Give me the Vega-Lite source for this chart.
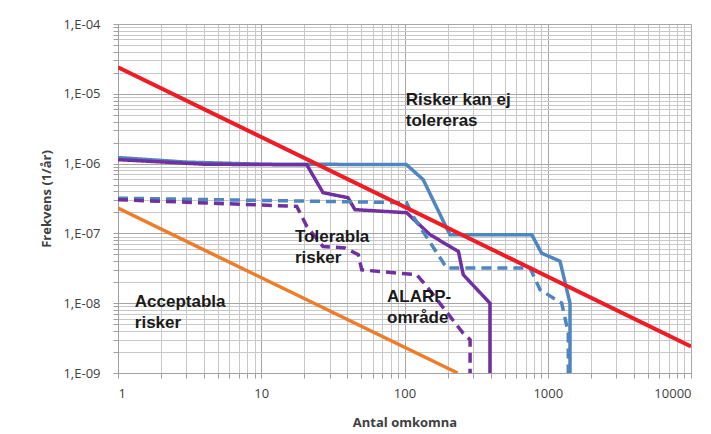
{
  "$schema": "https://vega.github.io/schema/vega-lite/v6.json",
  "width": 573,
  "height": 349,
  "autosize": "none",
  "padding": {"left": 118, "top": 24, "right": 20, "bottom": 61},
  "background": "white",
  "config": {
    "view": {"stroke": null},
    "axis": {
      "labelFont": "Open Sans",
      "titleFont": "Open Sans",
      "labelColor": "#404040",
      "titleColor": "#404040",
      "gridWidth": 1,
      "gridOpacity": 1,
      "domainColor": "#a0a0a0",
      "tickColor": "#a0a0a0",
      "labelOverlap": false,
      "labelFontSize": 13,
      "titleFontSize": 13,
      "titleFontWeight": "bold"
    }
  },
  "datasets": {
    "curves": [
      {"s": "blue", "i": 1, "x": 1, "y": 1.22e-6},
      {"s": "blue", "i": 2, "x": 3, "y": 1.05e-6},
      {"s": "blue", "i": 3, "x": 10, "y": 9.8e-7},
      {"s": "blue", "i": 4, "x": 103, "y": 9.7e-7},
      {"s": "blue", "i": 5, "x": 135, "y": 5.9e-7},
      {"s": "blue", "i": 6, "x": 197, "y": 1.19e-7},
      {"s": "blue", "i": 7, "x": 208, "y": 9.6e-8},
      {"s": "blue", "i": 8, "x": 773, "y": 9.6e-8},
      {"s": "blue", "i": 9, "x": 907, "y": 5.2e-8},
      {"s": "blue", "i": 10, "x": 1218, "y": 4.0e-8},
      {"s": "blue", "i": 11, "x": 1430, "y": 1.0e-8},
      {"s": "blue", "i": 12, "x": 1430, "y": 1.0e-9},
      {"s": "purple", "i": 1, "x": 1, "y": 1.14e-6},
      {"s": "purple", "i": 2, "x": 4, "y": 9.8e-7},
      {"s": "purple", "i": 3, "x": 20.8, "y": 9.6e-7},
      {"s": "purple", "i": 4, "x": 27, "y": 3.83e-7},
      {"s": "purple", "i": 5, "x": 40.3, "y": 3.25e-7},
      {"s": "purple", "i": 6, "x": 45.1, "y": 2.19e-7},
      {"s": "purple", "i": 7, "x": 103.5, "y": 1.98e-7},
      {"s": "purple", "i": 8, "x": 150.6, "y": 9.6e-8},
      {"s": "purple", "i": 9, "x": 238, "y": 5.5e-8},
      {"s": "purple", "i": 10, "x": 257, "y": 2.56e-8},
      {"s": "purple", "i": 11, "x": 395, "y": 1.0e-8},
      {"s": "purple", "i": 12, "x": 395, "y": 1.0e-9},
      {"s": "bluedash", "i": 1, "x": 1, "y": 3.2e-7},
      {"s": "bluedash", "i": 2, "x": 103.5, "y": 2.75e-7},
      {"s": "bluedash", "i": 3, "x": 115, "y": 1.75e-7},
      {"s": "bluedash", "i": 4, "x": 197, "y": 3.2e-8},
      {"s": "bluedash", "i": 5, "x": 752, "y": 3.2e-8},
      {"s": "bluedash", "i": 6, "x": 884, "y": 1.56e-8},
      {"s": "bluedash", "i": 7, "x": 1251, "y": 1.0e-8},
      {"s": "bluedash", "i": 8, "x": 1391, "y": 3.8e-9},
      {"s": "bluedash", "i": 9, "x": 1391, "y": 1.0e-9},
      {"s": "purpledash", "i": 1, "x": 1, "y": 3.04e-7},
      {"s": "purpledash", "i": 2, "x": 17.7, "y": 2.44e-7},
      {"s": "purpledash", "i": 3, "x": 20.8, "y": 1.26e-7},
      {"s": "purpledash", "i": 4, "x": 27, "y": 6.5e-8},
      {"s": "purpledash", "i": 5, "x": 38.4, "y": 6.2e-8},
      {"s": "purpledash", "i": 6, "x": 47.6, "y": 4.95e-8},
      {"s": "purpledash", "i": 7, "x": 50.3, "y": 3.0e-8},
      {"s": "purpledash", "i": 8, "x": 121.6, "y": 2.56e-8},
      {"s": "purpledash", "i": 9, "x": 143, "y": 1.74e-8},
      {"s": "purpledash", "i": 10, "x": 257, "y": 3.7e-9},
      {"s": "purpledash", "i": 11, "x": 287, "y": 3.0e-9},
      {"s": "purpledash", "i": 12, "x": 287, "y": 1.0e-9}
    ],
    "criteria": [
      {"s": "red", "i": 1, "x": 1, "y": 2.4e-5},
      {"s": "red", "i": 2, "x": 10000, "y": 2.4e-9},
      {"s": "orange", "i": 1, "x": 1, "y": 2.3e-7},
      {"s": "orange", "i": 2, "x": 235, "y": 1.0e-9}
    ],
    "notes": [
      {"x": 102, "y": 1.07e-5, "t": "Risker kan ej\ntolereras"},
      {"x": 17.2, "y": 1.17e-7, "t": "Tolerabla\nrisker"},
      {"x": 1.31, "y": 1.37e-8, "t": "Acceptabla\nrisker"},
      {"x": 75.5, "y": 1.61e-8, "t": "ALARP-\nområde"}
    ]
  },
  "layer": [
    {
      "data": {"name": "curves"},
      "mark": {"type": "line", "strokeWidth": 3.5, "clip": true},
      "encoding": {
        "x": {
          "field": "x", "type": "quantitative",
          "scale": {"type": "log", "domain": [1, 10000], "nice": false},
          "axis": {
            "title": "Antal omkomna",
            "values": [1,2,3,4,5,6,7,8,9,10,20,30,40,50,60,70,80,90,100,200,300,400,500,600,700,800,900,1000,2000,3000,4000,5000,6000,7000,8000,9000,10000],
            "labelExpr": "abs(log(datum.value)/LN10 - round(log(datum.value)/LN10)) < 0.000001 ? format(datum.value, 'd') : ''",
            "gridColor": {"condition": {"test": "abs(log(datum.value)/LN10 - round(log(datum.value)/LN10)) < 0.000001", "value": "#a6a6a6"}, "value": "#c8c8c8"},
            "tickSize": 5,
            "labelPadding": 9,
            "titlePadding": 16
          }
        },
        "y": {
          "field": "y", "type": "quantitative",
          "scale": {"type": "log", "domain": [1e-9, 1e-4], "nice": false},
          "axis": {
            "title": "Frekvens (1/år)",
            "values": [1e-9,2e-9,3e-9,4e-9,5e-9,6e-9,7e-9,8e-9,9e-9,1e-8,2e-8,3e-8,4e-8,5e-8,6e-8,7e-8,8e-8,9e-8,1e-7,2e-7,3e-7,4e-7,5e-7,6e-7,7e-7,8e-7,9e-7,1e-6,2e-6,3e-6,4e-6,5e-6,6e-6,7e-6,8e-6,9e-6,1e-5,2e-5,3e-5,4e-5,5e-5,6e-5,7e-5,8e-5,9e-5,1e-4],
            "labelExpr": "abs(log(datum.value)/LN10 - round(log(datum.value)/LN10)) < 0.000001 ? '1,E-0' + (-round(log(datum.value)/LN10)) : ''",
            "gridColor": {"condition": {"test": "abs(log(datum.value)/LN10 - round(log(datum.value)/LN10)) < 0.000001", "value": "#a6a6a6"}, "value": "#c8c8c8"},
            "tickSize": 5,
            "labelPadding": 13,
            "titlePadding": 9
          }
        },
        "order": {"field": "i", "type": "quantitative"},
        "detail": {"field": "s"},
        "color": {
          "field": "s", "type": "nominal", "legend": null,
          "scale": {"domain": ["blue", "purple", "bluedash", "purpledash"], "range": ["#4f86c0", "#7030a0", "#4f86c0", "#7030a0"]}
        },
        "strokeDash": {
          "field": "s", "type": "nominal", "legend": null,
          "scale": {"domain": ["blue", "purple", "bluedash", "purpledash"], "range": [[1, 0], [1, 0], [10, 6], [10, 6]]}
        }
      }
    },
    {
      "data": {"name": "criteria"},
      "mark": {"type": "line", "clip": true},
      "encoding": {
        "x": {"field": "x", "type": "quantitative"},
        "y": {"field": "y", "type": "quantitative"},
        "order": {"field": "i", "type": "quantitative"},
        "detail": {"field": "s"},
        "color": {
          "field": "s", "type": "nominal", "legend": null,
          "scale": {"domain": ["red", "orange"], "range": ["#ee1c25", "#ee7d2b"]}
        },
        "strokeWidth": {
          "field": "s", "type": "nominal", "legend": null,
          "scale": {"domain": ["red", "orange"], "range": [4, 3.5]}
        }
      }
    },
    {
      "data": {"name": "notes"},
      "mark": {"type": "text", "align": "left", "baseline": "top", "font": "Liberation Sans", "fontWeight": "bold", "fontSize": 17, "lineHeight": 21, "lineBreak": "\n", "color": "#1a1a1a"},
      "encoding": {
        "x": {"field": "x", "type": "quantitative"},
        "y": {"field": "y", "type": "quantitative"},
        "text": {"field": "t"}
      }
    }
  ],
  "resolve": {"scale": {"color": "independent", "strokeDash": "independent"}}
}
